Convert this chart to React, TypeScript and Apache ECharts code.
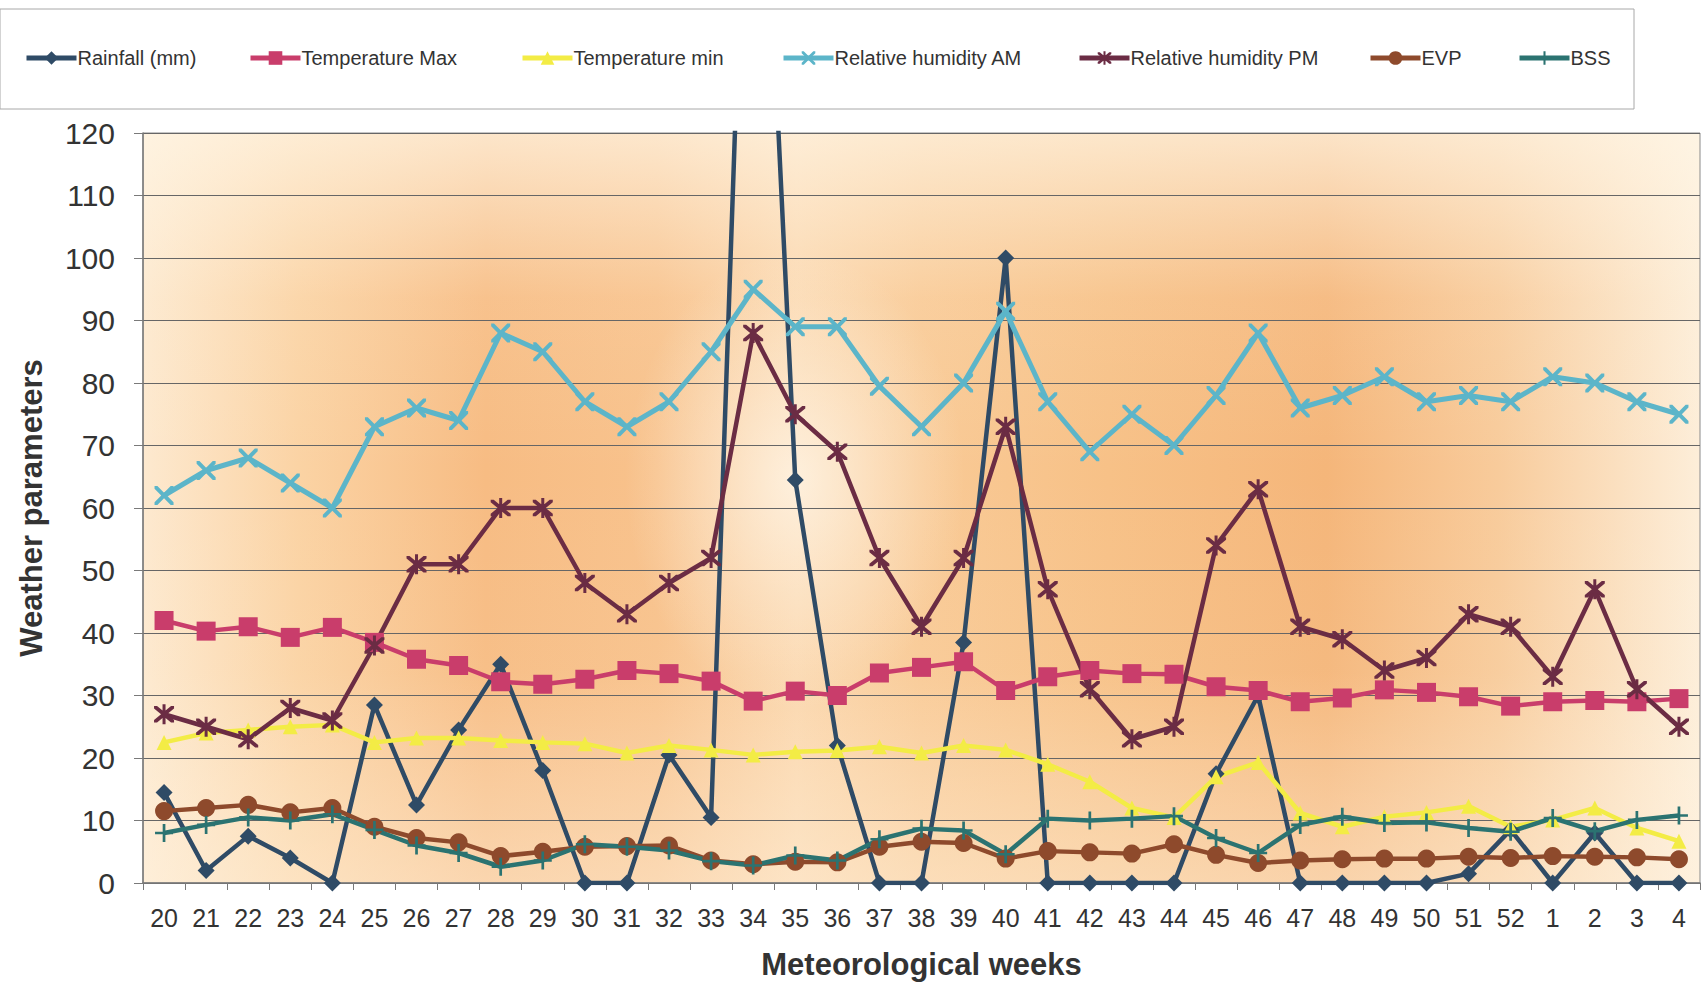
import React, { useEffect, useRef } from 'react';
import * as echarts from 'echarts';

const weeks = ['20','21','22','23','24','25','26','27','28','29','30','31','32','33','34','35','36','37','38','39','40','41','42','43','44','45','46','47','48','49','50','51','52','1','2','3','4'];

const rainfall = [14.5, 2, 7.5, 4, 0, 28.5, 12.5, 24.5, 35, 18, 0, 0, 20.5, 10.5, 204, 64.5, 22, 0, 0, 38.5, 100, 0, 0, 0, 0, 17.5, 30, 0, 0, 0, 0, 1.5, 8.5, 0, 8, 0, 0];
const tempMax = [42, 40.3, 41, 39.3, 40.9, 38.5, 35.8, 34.8, 32.2, 31.8, 32.6, 34, 33.5, 32.3, 29.1, 30.7, 30, 33.6, 34.5, 35.4, 30.8, 33, 34, 33.5, 33.4, 31.4, 30.8, 29, 29.6, 30.9, 30.5, 29.8, 28.3, 29, 29.2, 29, 29.5];
const tempMin = [22.5, 24, 24.5, 25, 25.3, 22.5, 23.2, 23.2, 22.8, 22.5, 22.3, 20.8, 22, 21.3, 20.5, 21, 21.2, 21.8, 20.8, 22, 21.3, 19, 16.2, 12, 10.5, 17, 19.3, 11.2, 9, 10.6, 11.3, 12.3, 9, 10.1, 12, 8.8, 6.7];
const rhAM = [62, 66, 68, 64, 60, 73, 76, 74, 88, 85, 77, 73, 77, 85, 95, 89, 89, 79.5, 73, 80, 91.5, 77, 69, 75, 70, 78, 88, 76, 78, 81, 77, 78, 77, 81, 80, 77, 75];
const rhPM = [27, 25, 23, 28, 26, 38, 51, 51, 60, 60, 48, 43, 48, 52, 88, 75, 69, 52, 41, 52, 73, 47, 31, 23, 25, 54, 63, 41, 39, 34, 36, 43, 41, 33, 47, 31, 25];
const evp = [11.5, 12, 12.5, 11.3, 12, 9, 7.2, 6.5, 4.3, 5, 5.8, 5.9, 6, 3.6, 3, 3.4, 3.3, 5.8, 6.6, 6.4, 3.9, 5.1, 4.9, 4.7, 6.2, 4.5, 3.2, 3.6, 3.8, 3.9, 3.9, 4.2, 4, 4.3, 4.2, 4.1, 3.8];
const bss = [8, 9.3, 10.5, 10, 11, 8.5, 6, 4.8, 2.6, 3.6, 6.2, 5.8, 5.2, 3.5, 2.8, 4.4, 3.6, 7, 8.7, 8.4, 4.6, 10.3, 10, 10.3, 10.7, 7.2, 4.8, 9.3, 10.6, 9.6, 9.7, 8.8, 8.2, 10.4, 8.3, 10.1, 10.8];

const seriesNames = ['Rainfall (mm)', 'Temperature Max', 'Temperature min', 'Relative humidity AM', 'Relative humidity PM', 'EVP', 'BSS'];

const FONT = 'Arial, "Liberation Sans", sans-serif';

const crossPath = 'path://M0,0L3,0L10,7L17,0L20,0L20,3L13,10L20,17L20,20L17,20L10,13L3,20L0,20L0,17L7,10L0,3Z';
const starPath = 'path://M0,0L3,0L10,7L17,0L20,0L20,3L13,10L20,17L20,20L17,20L10,13L3,20L0,20L0,17L7,10L0,3Z M8.5,-2L11.5,-2L11.5,22L8.5,22Z';
const plusPath = 'path://M8.5,0L11.5,0L11.5,20L8.5,20Z M0,8.5L20,8.5L20,11.5L0,11.5Z';

const GRID = { left: 143, top: 133, right: 5, bottom: 103 };
const PLOT = { x: 143, y: 133, w: 1557, h: 750 };

export default function App() {
  const ref = useRef<HTMLDivElement>(null);
  useEffect(() => {
    if (!ref.current) return;
    const chart = echarts.init(ref.current, null, { renderer: 'svg' });

    const mk = (name: string, data: number[], color: string, symbol: string, size: number, width = 4.5) => ({
      name,
      type: 'line',
      data,
      symbol,
      symbolSize: size,
      showSymbol: true,
      clip: true,
      lineStyle: { color, width },
      itemStyle: { color, borderWidth: 0 },
      emphasis: { disabled: true },
    });

    const series = [
      mk(seriesNames[0], rainfall, '#2f4b66', 'diamond', 17),
      mk(seriesNames[1], tempMax, '#c93d6b', 'rect', 19),
      mk(seriesNames[2], tempMin, '#f3ec45', 'triangle', 15),
      mk(seriesNames[3], rhAM, '#5cb5c9', crossPath, 19, 5),
      mk(seriesNames[4], rhPM, '#6b2c44', starPath, 20),
      mk(seriesNames[5], evp, '#8e4a2c', 'circle', 18),
      mk(seriesNames[6], bss, '#2b7371', plusPath, 18),
    ];

    const legendLefts = [24, 248, 520, 781, 1077, 1368, 1517];
    const legend = seriesNames.map((n, i) => ({
      data: [n],
      left: legendLefts[i],
      top: 48,
      padding: 0,
      itemGap: 0,
      itemWidth: 50,
      itemHeight: 17,
      selectedMode: false,
      lineStyle: { width: 5 },
      textStyle: { fontFamily: FONT, fontSize: 20, color: '#333', padding: [0, 0, 0, -4] },
    }));

    const option = {
      animation: false,
      backgroundColor: '#ffffff',
      textStyle: { fontFamily: FONT },
      legend,
      grid: { ...GRID, show: true, borderColor: '#8a8a8a', borderWidth: 1, backgroundColor: 'transparent' },
      graphic: [
        {
          type: 'rect', silent: true, z: -20,
          shape: { x: 0, y: 9, width: 1634, height: 100 },
          style: { fill: '#ffffff', stroke: '#a8a8a8', lineWidth: 1 },
        },
        {
          type: 'rect', silent: true, z: -19,
          shape: { x: PLOT.x, y: PLOT.y, width: PLOT.w, height: PLOT.h },
          style: {
            fill: new echarts.graphic.LinearGradient(0, 0, 1, 0, [
              { offset: 0, color: '#fde9cf' },
              { offset: 0.1, color: '#fbd3a4' },
              { offset: 0.22, color: '#f7bc83' },
              { offset: 0.33, color: '#f8c28c' },
              { offset: 0.42, color: '#fbd6ac' },
              { offset: 0.5, color: '#f9ca96' },
              { offset: 0.62, color: '#f7c187' },
              { offset: 0.76, color: '#f5b67a' },
              { offset: 0.87, color: '#f8cb9b' },
              { offset: 1, color: '#fdeed9' },
            ]),
          },
        },
        {
          type: 'rect', silent: true, z: -18,
          shape: { x: PLOT.x, y: PLOT.y, width: PLOT.w, height: PLOT.h },
          style: {
            fill: new echarts.graphic.LinearGradient(0, 0, 0, 1, [
              { offset: 0, color: 'rgba(255,247,232,0.7)' },
              { offset: 0.22, color: 'rgba(255,247,232,0.1)' },
              { offset: 0.45, color: 'rgba(255,247,232,0)' },
              { offset: 0.72, color: 'rgba(255,247,232,0.05)' },
              { offset: 1, color: 'rgba(255,245,228,0.45)' },
            ]),
          },
        },
        {
          type: 'ellipse', silent: true, z: -17,
          shape: { cx: 795, cy: 480, rx: 170, ry: 230 },
          style: {
            fill: new echarts.graphic.RadialGradient(0.5, 0.5, 0.5, [
              { offset: 0, color: 'rgba(255,248,236,0.75)' },
              { offset: 0.5, color: 'rgba(255,248,236,0.35)' },
              { offset: 1, color: 'rgba(255,248,236,0)' },
            ]),
          },
        },
      ],
      xAxis: {
        type: 'category',
        data: weeks,
        boundaryGap: true,
        axisLine: { show: true, lineStyle: { color: '#7a7a7a', width: 1.5 } },
        axisTick: { show: true, length: 7, lineStyle: { color: '#7a7a7a' } },
        axisLabel: { fontFamily: FONT, fontSize: 25, color: '#333', margin: 22, interval: 0 },
        splitLine: { show: false },
        name: 'Meteorological weeks',
        nameLocation: 'middle',
        nameGap: 66,
        nameTextStyle: { fontFamily: FONT, fontSize: 31, fontWeight: 'bold', color: '#333' },
      },
      yAxis: {
        type: 'value',
        min: 0,
        max: 120,
        interval: 10,
        axisLine: { show: true, lineStyle: { color: '#7a7a7a', width: 1.5 } },
        axisTick: { show: true, length: 9, lineStyle: { color: '#7a7a7a' } },
        axisLabel: { fontFamily: FONT, fontSize: 30, color: '#333', margin: 28 },
        splitLine: { show: true, lineStyle: { color: '#666', width: 1 } },
        name: 'Weather parameters',
        nameLocation: 'middle',
        nameGap: 96,
        nameTextStyle: { fontFamily: FONT, fontSize: 31, fontWeight: 'bold', color: '#333' },
      },
      series,
    };

    chart.setOption(option as any);
    return () => chart.dispose();
  }, []);

  return (
    <div
      ref={ref}
      style={{ position: 'absolute', left: 0, top: 0, width: 1705, height: 986 }}
    />
  );
}
